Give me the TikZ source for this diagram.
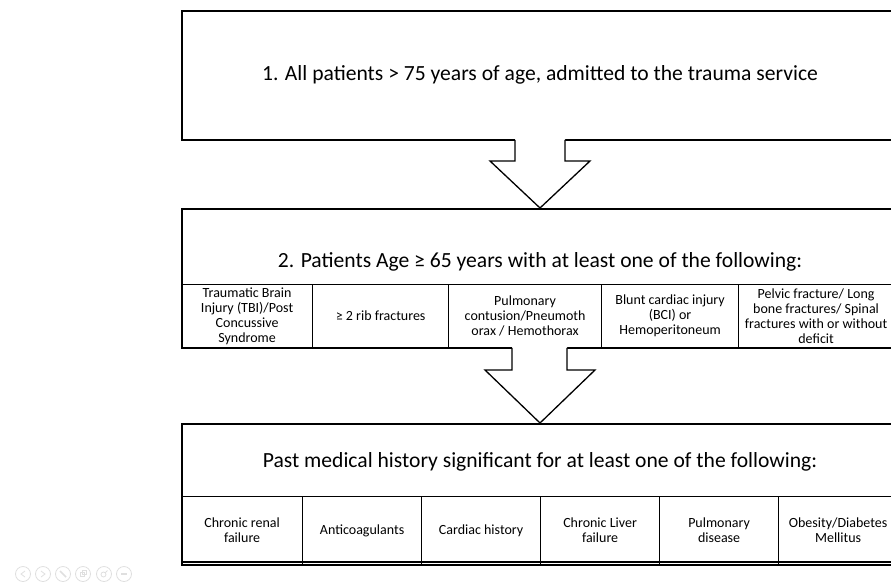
\documentclass[tikz,border=0pt]{standalone}
\usepackage{fontspec}
\setmainfont{Carlito}
\begin{document}
\begin{tikzpicture}[x=1pt,y=-1pt,
  frame/.style={draw=black,line width=1.6pt,fill=white},
  cell/.style={draw=black,line width=1.2pt,anchor=north west,inner sep=0pt,
    align=center,font=\fontsize{14}{15}\selectfont},
  bigtext/.style={inner sep=0pt,anchor=base,font=\fontsize{21.6}{26}\selectfont},
  blockarrow/.style={draw=black,line width=1.3pt,line join=miter},
  ctrl/.style={draw=gray!25,line width=0.8pt},
]
\useasboundingbox (0,0) rectangle (891,581);
\clip (0,0) rectangle (891,581);
% box 1
\node[frame,anchor=north west,minimum width=718,minimum height=129,inner sep=0pt] (top) at (181,10) {};
\node[bigtext] (toptext) at (540,80) {1. All patients > 75 years of age, admitted to the trauma service};
% box 2
\node[frame,anchor=north west,minimum width=712,minimum height=139,inner sep=0pt] (mid) at (181,208) {};
\node[bigtext] (midtext) at (540,267) {2. Patients Age ≥ 65 years with at least one of the following:};
\node[cell,minimum width=131,minimum height=63] (m1) at (181,284) {Traumatic Brain\\Injury (TBI)/Post\\Concussive\\Syndrome};
\node[cell,minimum width=136,minimum height=63] (m2) at (312,284) {≥ 2 rib fractures};
\node[cell,minimum width=153,minimum height=63] (m3) at (448,284) {Pulmonary\\contusion/Pneumoth\\orax / Hemothorax};
\node[cell,minimum width=137,minimum height=63] (m4) at (601,284) {Blunt cardiac injury\\(BCI) or\\Hemoperitoneum};
\node[cell,minimum width=155,minimum height=63] (m5) at (738,284) {Pelvic fracture/ Long\\bone fractures/ Spinal\\fractures with or without\\deficit};
\draw[line width=1.6pt] (mid.south west) -- (mid.south east);
% box 3
\node[frame,anchor=north west,minimum width=716,minimum height=141,inner sep=0pt] (bot) at (181,423) {};
\node[bigtext] (bottext) at (540,467) {Past medical history significant for at least one of the following:};
\node[cell,minimum width=121,minimum height=68] (b1) at (181,496) {Chronic renal\\failure};
\node[cell,minimum width=119,minimum height=68] (b2) at (302,496) {Anticoagulants};
\node[cell,minimum width=119,minimum height=68] (b3) at (421,496) {Cardiac history};
\node[cell,minimum width=119,minimum height=68] (b4) at (540,496) {Chronic Liver\\failure};
\node[cell,minimum width=119,minimum height=68] (b5) at (659,496) {Pulmonary\\disease};
\node[cell,minimum width=119,minimum height=68] (b6) at (778,496) {Obesity/Diabetes\\Mellitus};
\draw[line width=1.6pt] (bot.south west) -- (bot.south east);
\draw[line width=1.3pt] ([yshift=3.5pt]bot.south west) -- ([yshift=3.5pt]bot.south east);
% arrow 1
\coordinate (t1) at (540,208);
\fill[white] (515,136) -- (515,161) -- (490,161) -- (t1) -- (590,161) -- (565,161) -- (565,136) -- cycle;
\draw[blockarrow] (515,139.8) -- (515,161) -- (490,161) -- (t1) -- (590,161) -- (565,161) -- (565,139.8);
% arrow 2
\coordinate (t2) at (540,423);
\fill[white] (512,344) -- (512,370) -- (485,370) -- (t2) -- (595,370) -- (567,370) -- (567,344) -- cycle;
\draw[blockarrow] (512,347.8) -- (512,370) -- (485,370) -- (t2) -- (595,370) -- (567,370) -- (567,347.8);
% slideshow controls
\foreach \i/\cx in {1/23,2/43,3/63,4/83,5/104,6/124}{
  \node[ctrl,circle,minimum size=15,inner sep=0pt] (c\i) at (\cx,574) {};
}
\draw[ctrl] ([xshift=2pt,yshift=-3pt]c1.center) -- ([xshift=-2pt]c1.center) -- ([xshift=2pt,yshift=3pt]c1.center);
\draw[ctrl] ([xshift=-2pt,yshift=-3pt]c2.center) -- ([xshift=2pt]c2.center) -- ([xshift=-2pt,yshift=3pt]c2.center);
\draw[ctrl,line width=1.5pt] ([xshift=-3pt,yshift=3pt]c3.center) -- ([xshift=3pt,yshift=-3pt]c3.center);
\draw[ctrl] ([xshift=-3pt,yshift=-2pt]c4.center) rectangle ([xshift=1pt,yshift=2pt]c4.center);
\draw[ctrl] ([xshift=-1pt,yshift=0pt]c4.center) rectangle ([xshift=3pt,yshift=3.5pt]c4.center);
\draw[ctrl] ([xshift=-0.5pt,yshift=-0.5pt]c5.center) circle (2.5);
\draw[ctrl] ([xshift=1.3pt,yshift=1.3pt]c5.center) -- ([xshift=3.5pt,yshift=3.5pt]c5.center);
\draw[ctrl,line width=1.2pt] ([xshift=-3pt]c6.center) -- ([xshift=3pt]c6.center);
\end{tikzpicture}
\end{document}
